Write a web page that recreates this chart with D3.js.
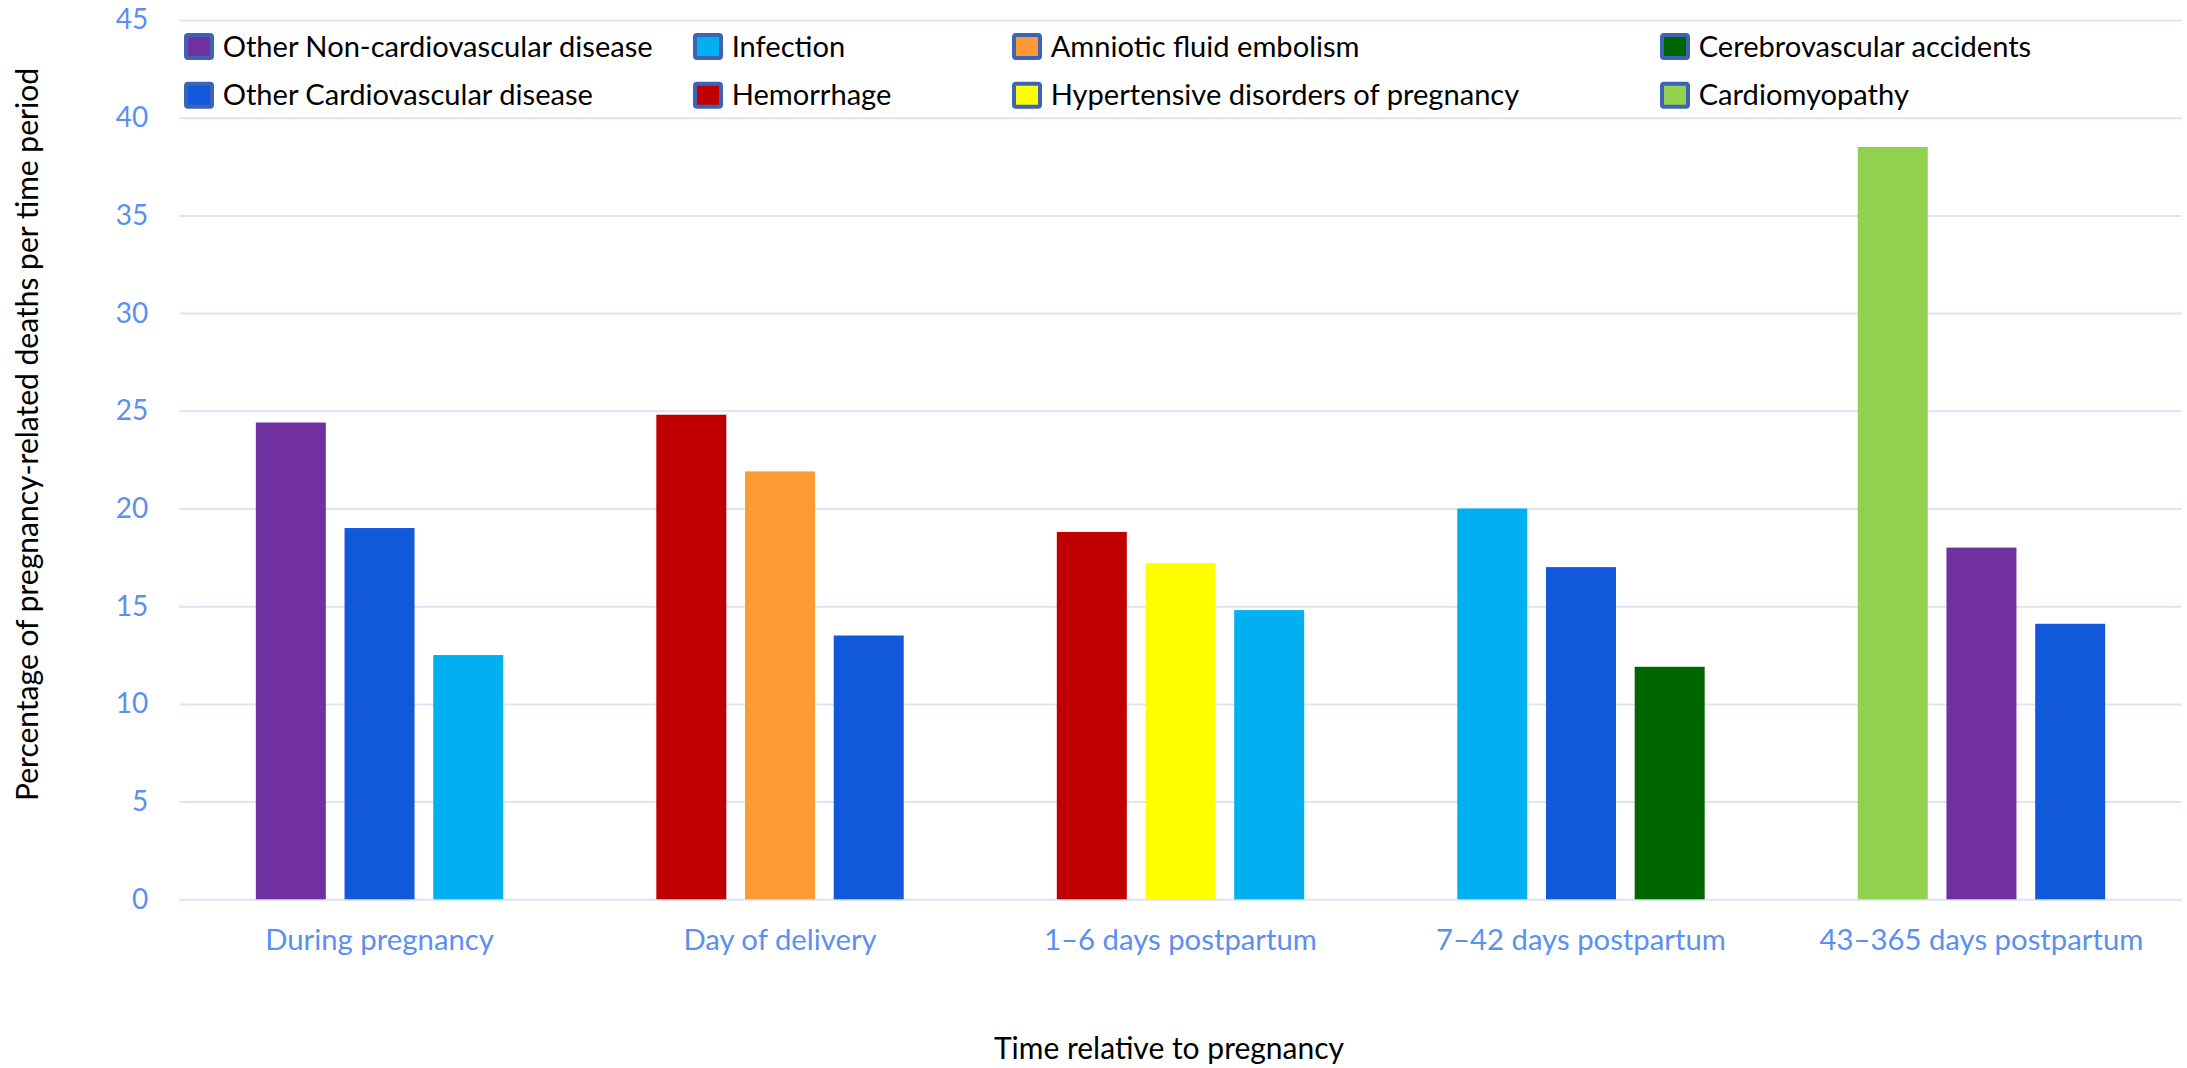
<!DOCTYPE html>
<html>
<head>
<meta charset="utf-8">
<script src="https://cdn.jsdelivr.net/npm/d3@7"></script>
<style>
  body { margin: 0; background: white; }
  text { font-family: Lato, "Open Sans", sans-serif; }
</style>
</head>
<body>
<script>

// chart data
var periods = ["During pregnancy", "Day of delivery", "1\u20136 days postpartum",
               "7\u201342 days postpartum", "43\u2013365 days postpartum"];

var causes = ["Other Non-cardiovascular disease", "Infection", "Amniotic fluid embolism",
              "Cerebrovascular accidents", "Other Cardiovascular disease", "Hemorrhage",
              "Hypertensive disorders of pregnancy", "Cardiomyopathy"];

var causeColors = ["#7030A0", "#00B0F0", "#FF9933", "#006600",
                   "#1158DB", "#C00000", "#FFFF00", "#92D050"];

// top three causes per period, in drawing order
var barCauses = [
  ["Other Non-cardiovascular disease", "Other Cardiovascular disease", "Infection"],
  ["Hemorrhage", "Amniotic fluid embolism", "Other Cardiovascular disease"],
  ["Hemorrhage", "Hypertensive disorders of pregnancy", "Infection"],
  ["Infection", "Other Cardiovascular disease", "Cerebrovascular accidents"],
  ["Cardiomyopathy", "Other Non-cardiovascular disease", "Other Cardiovascular disease"]
];

var barValues = [
  [24.4, 19.0, 12.5],
  [24.8, 21.9, 13.5],
  [18.8, 17.2, 14.8],
  [20.0, 17.0, 11.9],
  [38.5, 18.0, 14.1]
];

var yTicks = [0, 5, 10, 15, 20, 25, 30, 35, 40, 45];


var svg_width = 2187, svg_height = 1068;
var plot = {left: 179.3, right: 2181.7, top: 20, bottom: 899.3};
var tickColor = "#5B8FF0";
var gridColor = "#DAE5F6";

var colorScale = d3.scaleOrdinal().domain(causes).range(causeColors);

var svg = d3.select("body").append("svg")
            .attr("width", svg_width)
            .attr("height", svg_height);

svg.append("rect").attr("width", svg_width).attr("height", svg_height).style("fill", "white");

// Scales
var xScale = d3.scaleBand()
               .domain(periods)
               .range([plot.left, plot.right]);

var innerScale = d3.scaleBand()
                   .domain([0, 1, 2])
                   .range([-123.7, 123.7])
                   .paddingInner(0.211);

var yScale = d3.scaleLinear()
               .domain([0, 45])
               .range([plot.bottom, plot.top]);

// Gridlines + y tick labels
var yAxis = d3.axisLeft(yScale)
              .tickValues(yTicks)
              .tickSize(-(plot.right - plot.left))
              .tickPadding(31);

var yAxisGroup = svg.append("g")
                    .attr("transform", "translate(" + plot.left + ",0)")
                    .call(yAxis);

yAxisGroup.select(".domain").remove();
yAxisGroup.selectAll(".tick line")
          .style("stroke", gridColor)
          .style("stroke-width", 2);
yAxisGroup.selectAll(".tick text")
          .style("fill", tickColor)
          .style("font-family", "Lato, sans-serif")
          .style("font-size", "28px");

// Bars
var groups = svg.selectAll(".period")
                .data(periods)
                .enter().append("g")
                .attr("class", "period")
                .attr("transform", function(d) {
                  return "translate(" + (xScale(d) + xScale.bandwidth() / 2) + ",0)";
                });

groups.selectAll("rect")
      .data(function(d, i) {
        return barValues[i].map(function(v, j) { return {idx: j, value: v, cause: barCauses[i][j]}; });
      })
      .enter().append("rect")
      .attr("x", function(d) { return innerScale(d.idx); })
      .attr("width", innerScale.bandwidth())
      .attr("y", function(d) { return yScale(d.value); })
      .attr("height", function(d) { return yScale(0) - yScale(d.value); })
      .style("fill", function(d) { return colorScale(d.cause); });

// X category labels
var xAxis = d3.axisBottom(xScale).tickSize(0).tickPadding(0);
var xAxisGroup = svg.append("g")
                    .attr("transform", "translate(0," + plot.bottom + ")")
                    .call(xAxis);
xAxisGroup.select(".domain").remove();
xAxisGroup.selectAll(".tick text")
          .attr("y", 51)
          .attr("dy", 0)
          .style("fill", tickColor)
          .style("font-family", "Lato, sans-serif")
          .style("font-size", "29.3px");

// Axis titles
svg.append("text")
   .attr("transform", "translate(38,434.5) rotate(-90)")
   .attr("text-anchor", "middle")
   .style("font-size", "30px")
   .style("fill", "black")
   .text("Percentage of pregnancy-related deaths per time period");

svg.append("text")
   .attr("x", 1169)
   .attr("y", 1059)
   .attr("text-anchor", "middle")
   .style("font-size", "30px")
   .style("fill", "black")
   .text("Time relative to pregnancy");

// Legend
var legendCols = [184, 693, 1012, 1660];
var legendRows = [33, 81.7];

var legend = svg.selectAll(".legend_item")
                .data(causes)
                .enter().append("g")
                .attr("class", "legend_item")
                .attr("transform", function(d, i) {
                  return "translate(" + legendCols[i % 4] + "," + legendRows[Math.floor(i / 4)] + ")";
                });

legend.append("rect")
      .attr("x", 2).attr("y", 2)
      .attr("width", 26).attr("height", 23)
      .attr("rx", 2)
      .style("fill", function(d) { return colorScale(d); })
      .style("stroke", "#3E63B5")
      .style("stroke-width", 4);

legend.append("text")
      .attr("x", 38.7)
      .attr("y", 23.5)
      .style("font-size", "29.1px")
      .style("fill", "black")
      .text(function(d) { return d; });

</script>
</body>
</html>
